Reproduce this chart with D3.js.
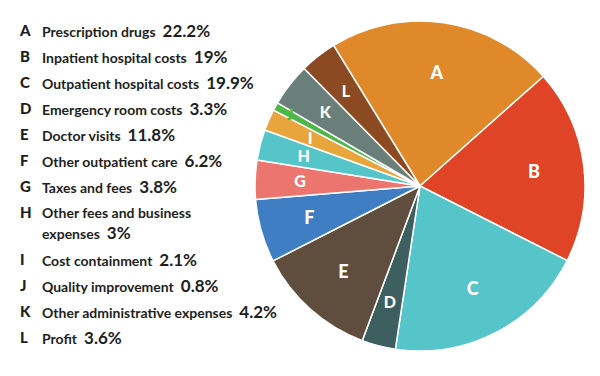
<!DOCTYPE html>
<html><head><meta charset="utf-8">
<script src="https://cdn.jsdelivr.net/npm/d3@7"></script>
<style>body{margin:0;background:#fff}svg{display:block}</style>
</head><body>
<svg id="c" width="600" height="376"></svg>
<script>
const letters = ["A","B","C","D","E","F","G","H","I","J","K","L"];
const names = ["Prescription drugs","Inpatient hospital costs","Outpatient hospital costs","Emergency room costs","Doctor visits","Other outpatient care","Taxes and fees","Other fees and business expenses","Cost containment","Quality improvement","Other administrative expenses","Profit"];
const values = [22.2, 19, 19.9, 3.3, 11.8, 6.2, 3.8, 3, 2.1, 0.8, 4.2, 3.6];
const valueLabels = ["22.2%","19%","19.9%","3.3%","11.8%","6.2%","3.8%","3%","2.1%","0.8%","4.2%","3.6%"];
const colors = ["#E0892A","#E04427","#56C5C9","#3E5F5F","#5F4E3D","#3F7EC3","#EC7570","#56C5C9","#E8A53C","#4DB848","#6A7F7A","#8C4A23"];

const data = letters.map((l,i)=>({letter:l,name:names[i],value:values[i],vl:valueLabels[i],color:colors[i]}));
const svg = d3.select("#c");
const font = "Lato, 'Open Sans', sans-serif";

// Pie
const cx = 420, cy = 186, R = 165;
const start = -31.6*Math.PI/180;
const pie = d3.pie().sort(null).value(d=>d.value).startAngle(start).endAngle(start+2*Math.PI);
const arc = d3.arc().innerRadius(0).outerRadius(R);
const g = svg.append("g").attr("transform",`translate(${cx},${cy})`);
const arcs = pie(data);
g.selectAll("path").data(arcs).join("path")
  .attr("d",arc).attr("fill",d=>d.data.color)
  .attr("stroke","#fff").attr("stroke-width",1.5).attr("stroke-linejoin","round");
const labR = d => d.data.letter==="J" ? 148 : (d.value<5 ? 120 : 115);
g.selectAll("text").data(arcs).join("text")
  .attr("transform",d=>{const a=(d.startAngle+d.endAngle)/2, r=labR(d);return `translate(${Math.sin(a)*r},${-Math.cos(a)*r})`;})
  .attr("text-anchor","middle").attr("dy","0.36em")
  .attr("font-family",font).attr("font-weight","900")
  .attr("font-size",d=>d.value<5 ? 16 : 18)
  .attr("fill",d=>d.data.letter==="J" ? "#4DB848" : "#fff")
  .text(d=>d.data.letter);

// Legend
const rowStep = 26, rowTop = 31, rowExtra = 21;
const lg = svg.append("g");
data.forEach((d,i)=>{
  const y = rowTop + i*rowStep + (i>7 ? rowExtra : 0);
  lg.append("text").attr("x",20).attr("y",y).attr("dy","0.36em")
    .attr("font-family",font).attr("font-weight","900").attr("font-size",15).attr("fill","#1e1e1e").text(d.letter);
  if (d.letter==="H") {
    lg.append("text").attr("x",42).attr("y",y).attr("dy","0.36em")
      .attr("font-family",font).attr("font-weight","bold").attr("font-size",14).attr("fill","#1e1e1e").text("Other fees and business");
    const t = lg.append("text").attr("x",42).attr("y",y+20).attr("dy","0.36em").attr("font-family",font).attr("fill","#1e1e1e");
    t.append("tspan").attr("font-weight","bold").attr("font-size",14).text("expenses");
    t.append("tspan").attr("dx",7).attr("font-weight","bold").attr("font-size",17).text(d.vl);
  } else {
    const t = lg.append("text").attr("x",42).attr("y",y).attr("dy","0.36em").attr("font-family",font).attr("fill","#1e1e1e");
    t.append("tspan").attr("font-weight","bold").attr("font-size",14).text(d.name);
    t.append("tspan").attr("dx",7).attr("font-weight","bold").attr("font-size",17).text(d.vl);
  }
});
</script>
</body></html>
